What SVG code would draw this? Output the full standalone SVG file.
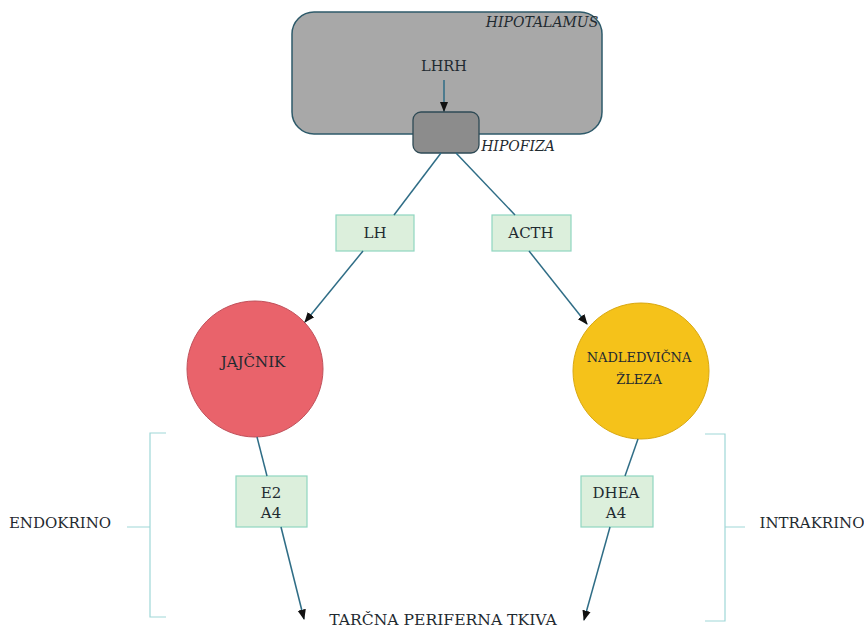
<svg xmlns="http://www.w3.org/2000/svg" width="864" height="630" viewBox="0 0 864 630">
<style>
text{font-family:"DejaVu Serif","Liberation Serif",serif;font-size:15px;fill:#1f2a30;text-anchor:middle}
.it{font-style:italic;font-size:14px}
.sm{font-size:13px}
.lbl{fill:#dcefdc;stroke:#8fd6c0;stroke-width:1.2}
.con{stroke:#2f6d86;stroke-width:1.5;fill:none}
.br{stroke:#9fd8d8;stroke-width:1.2;fill:none}
</style>
<defs>
<marker id="ah" viewBox="0 0 10 10" refX="9" refY="5" markerWidth="7" markerHeight="7" orient="auto-start-reverse">
<path d="M0,1 L10,5 L0,9 z" fill="#111"/>
</marker>
</defs>
<g id="hipotalamus">
<rect x="292" y="12" width="310" height="122" rx="22" fill="#a8a8a8" stroke="#2e5a6a" stroke-width="1.5"/>
<text class="it" x="542" y="27">HIPOTALAMUS</text>
<text x="444" y="71" style="font-size:14.5px">LHRH</text>
</g>
<g id="hipofiza">
<rect x="413" y="112" width="66" height="41" rx="8" fill="#8c8c8c" stroke="#2e4a55" stroke-width="1.3"/>
<text class="it" x="518" y="151">HIPOFIZA</text>
</g>
<g id="lh"><rect class="lbl" x="336" y="215" width="78" height="36"/><text x="375" y="238">LH</text></g>
<g id="acth"><rect class="lbl" x="492" y="215" width="79" height="36"/><text x="531" y="238">ACTH</text></g>
<g id="jajcnik"><circle cx="255" cy="369" r="68" fill="#e9636b" stroke="#c0505a" stroke-width="1"/><text x="253" y="367">JAJČNIK</text></g>
<g id="nadledvicna"><circle cx="641" cy="371" r="68" fill="#f5c21a" stroke="#d9a810" stroke-width="1"/><text class="sm" x="639" y="362">NADLEDVIČNA</text><text class="sm" x="639" y="384">ŽLEZA</text></g>
<g id="e2a4"><rect class="lbl" x="236" y="476" width="71" height="51"/><text x="271" y="498">E2</text><text x="271" y="518">A4</text></g>
<g id="dhea"><rect class="lbl" x="581" y="476" width="72" height="51"/><text x="616" y="498">DHEA</text><text x="616" y="518">A4</text></g>
<g id="endokrino"><text x="60" y="528">ENDOKRINO</text></g>
<g id="intrakrino"><text x="812" y="528">INTRAKRINO</text></g>
<g id="tarcna"><text x="443" y="625" style="font-size:15.6px">TARČNA PERIFERNA TKIVA</text></g>
<g id="brackets">
<path class="br" d="M166,433 H150 V617 H166 M127,527 H150"/>
<path class="br" d="M705,434 H725 V621 H705 M725,527 H745"/>
</g>
<g id="connectors">
<line class="con" x1="444" y1="80" x2="444" y2="111" stroke="#111" marker-end="url(#ah)"/>
<line class="con" x1="441" y1="153" x2="394" y2="215"/>
<line class="con" x1="456" y1="153" x2="515" y2="215"/>
<line class="con" x1="363" y1="251" x2="305" y2="322" marker-end="url(#ah)"/>
<line class="con" x1="529" y1="251" x2="587" y2="324" marker-end="url(#ah)"/>
<line class="con" x1="257" y1="437" x2="267" y2="476"/>
<line class="con" x1="281" y1="527" x2="304" y2="619" marker-end="url(#ah)"/>
<line class="con" x1="638" y1="439" x2="625" y2="476"/>
<line class="con" x1="610" y1="527" x2="584" y2="620" marker-end="url(#ah)"/>
</g>
</svg>
